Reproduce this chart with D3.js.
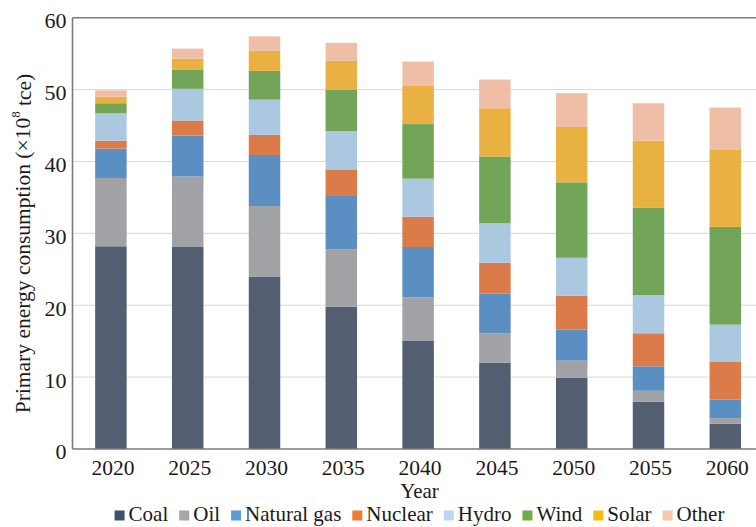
<!DOCTYPE html>
<html>
<head>
<meta charset="utf-8">
<script src="https://cdn.jsdelivr.net/npm/d3@7"></script>
<style>
  html, body { margin: 0; padding: 0; background: #ffffff; }
  svg { display: block; }
  svg text { font-family: "Liberation Serif", "Times New Roman", serif !important; }
</style>
</head>
<body>
<svg id="chart" width="756" height="527"></svg>
<script>
// Primary energy consumption by source, 10^8 tce
const years = ["2020", "2025", "2030", "2035", "2040", "2045", "2050", "2055", "2060"];
const sources = ["Coal", "Oil", "Natural gas", "Nuclear", "Hydro", "Wind", "Solar", "Other"];

const coal       = [28.2, 28.1, 24.0, 19.8, 15.1, 12.0,  9.9,  6.6,  3.5];
const oil        = [ 9.5,  9.8,  9.8,  8.0,  6.0,  4.1,  2.4,  1.5,  0.8];
const naturalGas = [ 4.1,  5.7,  7.1,  7.4,  7.0,  5.5,  4.3,  3.4,  2.6];
const nuclear    = [ 1.1,  2.1,  2.8,  3.7,  4.2,  4.3,  4.7,  4.6,  5.2];
const hydro      = [ 3.8,  4.4,  4.9,  5.3,  5.3,  5.5,  5.3,  5.3,  5.2];
const wind       = [ 1.4,  2.7,  4.0,  5.8,  7.6,  9.3, 10.5, 12.2, 13.6];
const solar      = [ 0.9,  1.5,  2.8,  4.0,  5.3,  6.7,  7.7,  9.3, 10.7];
const other      = [ 0.9,  1.4,  2.0,  2.5,  3.4,  4.0,  4.7,  5.2,  5.9];

const yTicks = [0, 10, 20, 30, 40, 50, 60];

const seriesValues = [coal, oil, naturalGas, nuclear, hydro, wind, solar, other];
const barColors    = ["#535f71", "#a0a2a5", "#5b8fc1", "#dc7b4a", "#abc8e0", "#72a558", "#e9b042", "#efbea6"];
const legendColors = ["#3e5069", "#a6a6a6", "#5b9bd5", "#ec7d33", "#bcd6ee", "#6fab47", "#f6bb12", "#f6c7aa"];

// table for d3.stack
const table = years.map((yr, i) => {
  const row = { year: yr };
  sources.forEach((s, k) => { row[s] = seriesValues[k][i]; });
  return row;
});

const svg = d3.select("#chart");
const plotLeft = 72.5, plotTop = 17.7, plotBottom = 449, step = 76.8;

const x = d3.scaleBand()
  .domain(years)
  .range([plotLeft, plotLeft + step * years.length])
  .paddingInner(0.59)
  .paddingOuter(0.295);

const y = d3.scaleLinear().domain([0, 60]).range([plotBottom, plotTop]);

// horizontal gridlines
svg.append("g")
  .selectAll("line")
  .data(yTicks.filter(t => t > 0 && t < 60))
  .join("line")
  .attr("x1", plotLeft).attr("x2", 756)
  .attr("y1", d => y(d)).attr("y2", d => y(d))
  .attr("stroke", "#d9d9d9").attr("stroke-width", 1);

// stacked bars
const stacked = d3.stack().keys(sources)(table);
svg.append("g")
  .selectAll("g")
  .data(stacked)
  .join("g")
  .attr("fill", (d, i) => barColors[i])
  .selectAll("rect")
  .data(d => d)
  .join("rect")
  .attr("x", d => x(d.data.year))
  .attr("width", x.bandwidth())
  .attr("y", d => y(d[1]))
  .attr("height", d => y(d[0]) - y(d[1]));

// frame: top line, left axis, bottom axis
const frame = svg.append("g").attr("stroke", "#7a7a7a").attr("stroke-width", 1.6).attr("fill", "none");
frame.append("line").attr("x1", plotLeft).attr("x2", 756).attr("y1", y(60)).attr("y2", y(60));
frame.append("line").attr("x1", plotLeft).attr("x2", plotLeft).attr("y1", y(60)).attr("y2", y(0));
frame.append("line").attr("x1", plotLeft).attr("x2", 756).attr("y1", y(0)).attr("y2", y(0));

// y axis labels
const yAxis = d3.axisLeft(y).tickValues(yTicks).tickSize(0).tickPadding(6);
const gy = svg.append("g").attr("transform", `translate(${plotLeft},0)`).call(yAxis);
gy.select(".domain").remove();
gy.selectAll("text")
  .attr("font-size", 22)
  .attr("fill", "#1a1a1a")
  .attr("dy", "0.45em");

// x axis labels
const xAxis = d3.axisBottom(x).tickSize(0).tickPadding(11);
const gx = svg.append("g").attr("transform", `translate(0,${plotBottom})`).call(xAxis);
gx.select(".domain").remove();
gx.selectAll("text")
  .attr("font-size", 21.5)
  .attr("fill", "#1a1a1a")
  .attr("dx", "2");

// axis titles
svg.append("text")
  .attr("x", 419.5).attr("y", 498)
  .attr("text-anchor", "middle")
  .attr("font-size", 21)
  .attr("fill", "#1a1a1a")
  .text("Year");

const yTitle = svg.append("text")
  .attr("transform", "translate(30,243.5) rotate(-90)")
  .attr("text-anchor", "middle")
  .attr("font-size", 21.5)
  .attr("fill", "#1a1a1a");
yTitle.append("tspan").text("Primary energy consumption (×10");
yTitle.append("tspan").attr("font-size", 13).attr("dy", "-0.75em").text("8");
yTitle.append("tspan").attr("dy", "0.5em").text(" tce)");

// legend
const legend = svg.append("g");
const items = legend.selectAll("g").data(sources).join("g");
items.append("rect")
  .attr("width", 10).attr("height", 10)
  .attr("y", -10)
  .attr("fill", (d, i) => legendColors[i]);
items.append("text")
  .attr("x", 14).attr("y", 0)
  .attr("font-size", 21)
  .attr("fill", "#1a1a1a")
  .text(d => d);

let cursor = 0;
items.each(function () {
  const g = d3.select(this);
  const w = 14 + g.select("text").node().getComputedTextLength();
  g.attr("transform", `translate(${cursor},0)`);
  cursor += w + 11;
});
const totalW = cursor - 11;
legend.attr("transform", `translate(${419.5 - totalW / 2},520.5)`);
</script>
</body>
</html>
